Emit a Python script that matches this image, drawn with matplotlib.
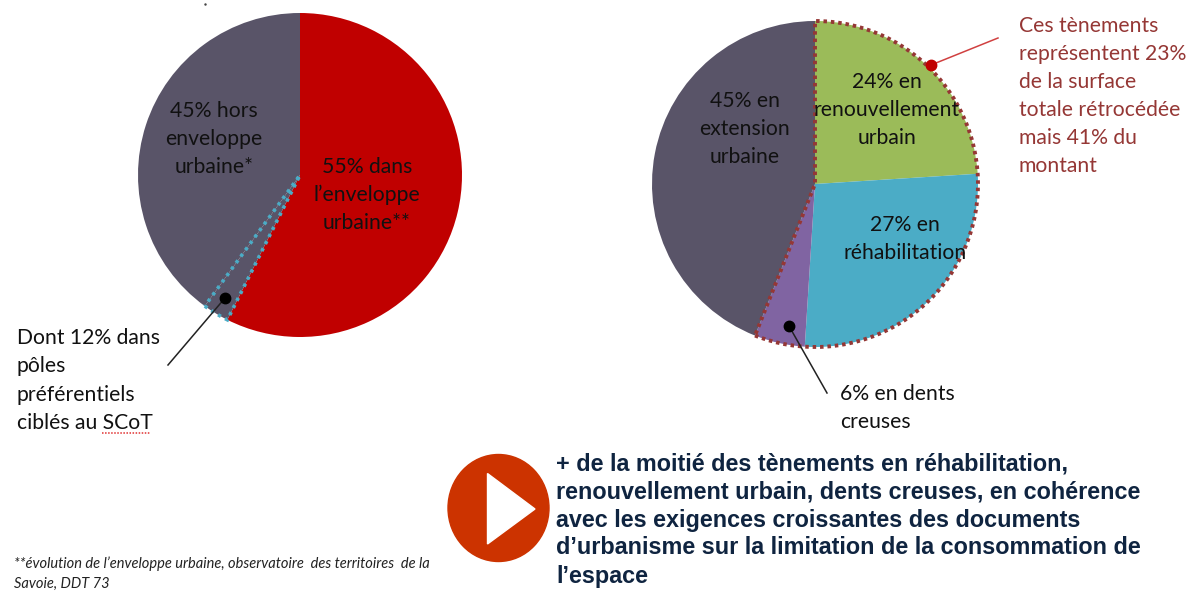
import matplotlib.pyplot as plt
from matplotlib.patches import Ellipse, Polygon

H = 600

# parts as drawn in the picture (clockwise from the top)
left_values = [57.4, 2.6, 40]
left_colors = ['#c00000', '#595468', '#595468']
right_values = [24, 27, 5, 44]
right_colors = ['#9bbb59', '#4bacc6', '#8064a2', '#595468']
right_outline = [56, 44]

left_in = ['55% dans', 'l’enveloppe', 'urbaine**']
left_out = ['45% hors', 'enveloppe', 'urbaine*']
left_note = ['Dont 12% dans', 'pôles', 'préférentiels', 'ciblés au SCoT']
right_ext = ['45% en', 'extension', 'urbaine']
right_ren = ['24% en', 'renouvellement', 'urbain']
right_reh = ['27% en', 'réhabilitation']
right_dents = ['6% en dents', 'creuses']
red_note = ['Ces tènements', 'représentent 23%', 'de la surface', 'totale rétrocédée',
            'mais 41% du', 'montant']
conclusion = ['+ de la moitié des tènements en réhabilitation,',
              'renouvellement urbain, dents creuses, en cohérence',
              'avec les exigences croissantes des documents',
              'd’urbanisme sur la limitation de la consommation de',
              'l’espace']
footnote = ['**évolution de l’enveloppe urbaine, observatoire  des territoires  de la',
            'Savoie, DDT 73']

fig = plt.figure(figsize=(12, 6), dpi=100)
ax = fig.add_axes([0, 0, 1, 1])


def label(lines, x, y, step=28, ha='center', **kw):
    # y is in image pixels, measured from the top
    style = dict(family='Lato', fontsize=15.2, color='#111111', ha=ha, va='center')
    style.update(kw)
    for i, line in enumerate(lines):
        ax.text(x, H - (y + i * step), line, **style)


def leader(x0, y0, x1, y1, color, lw=1.1, dot=None):
    ax.plot([x0, x1], [H - y0, H - y1], color=color, lw=lw, zorder=4)
    ax.plot([x1], [H - y1], 'o', color=dot or color, ms=7.5, zorder=5)


ax.pie(left_values, colors=left_colors, center=(300, H - 175), radius=162,
       startangle=90, counterclock=False, frame=True)
sliver, _ = ax.pie(left_values, colors=['none'] * 3, center=(300, H - 175), radius=162,
                   startangle=90, counterclock=False, frame=True,
                   wedgeprops=dict(edgecolor='#4bacc6', lw=2.6, linestyle=(0, (0.9, 1.3))))
sliver[0].set_visible(False)
sliver[2].set_visible(False)

ax.pie(right_values, colors=right_colors, center=(815, H - 184), radius=163,
       startangle=90, counterclock=False, frame=True)
outline, _ = ax.pie(right_outline, colors=['none', 'none'], center=(815, H - 184), radius=163,
                    startangle=90, counterclock=False, frame=True,
                    wedgeprops=dict(edgecolor='#953735', lw=2.8, linestyle=(0, (0.9, 1.0))))
outline[1].set_visible(False)

leader(168, 365, 225, 298, '#222222', dot='black')
leader(827, 393, 789, 326, '#222222', dot='black')
leader(998, 38, 931, 65, '#d04040', dot='#c00000')

label(left_out, 214, 111)
label(left_in, 367, 167)
label(left_note, 17, 338, step=28.3, ha='left')
ax.plot([102, 150], [H - 433, H - 433], color='#e03030', lw=1.1, linestyle=(0, (1, 1)))

label(right_ext, 745, 101)
label(right_ren, 887, 82)
label(right_reh, 905, 225)
label(right_dents, 840, 394, ha='left')
label(red_note, 1019, 26, ha='left', color='#953735')

ax.add_patch(Ellipse((498.5, H - 508), 101, 107, color='#cc3300', zorder=3))
ax.add_patch(Polygon([(487.5, H - 473.5), (487.5, H - 544), (535, H - 509)],
                     color='white', zorder=4))

label(conclusion, 556, 464, ha='left', family='Liberation Sans', weight='bold',
      fontsize=16.8, color='#0f2440')
label(footnote, 14, 564, step=20, ha='left', fontsize=10.5, style='italic', color='#222222')
ax.plot([205], [H - 4], '.', color='#444444', ms=1.5)

ax.set_xlim(0, 1200)
ax.set_ylim(0, H)
ax.axis('off')
fig.savefig('out.png', dpi=100)
